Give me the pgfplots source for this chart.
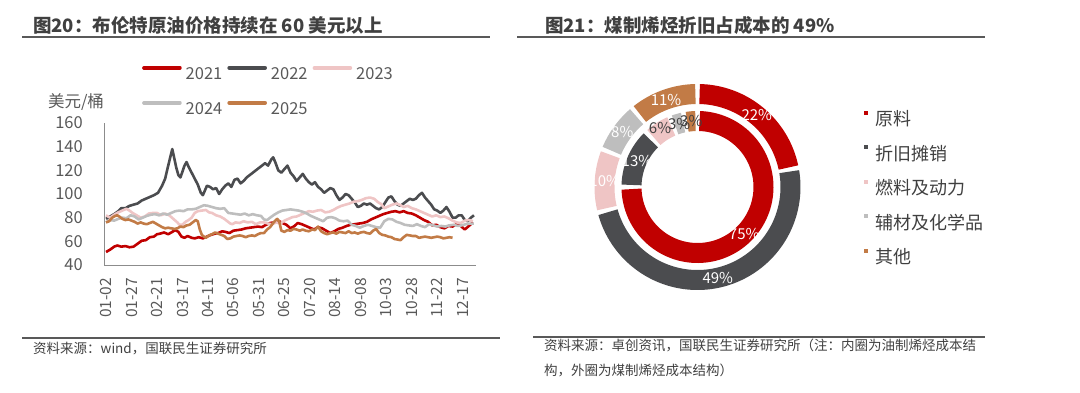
\documentclass[border=0pt]{standalone}
\usepackage{fontspec}
\setmainfont{Noto Sans CJK SC}
\usepackage{pgfplots}
\pgfplotsset{compat=1.18}
\definecolor{cRed}{HTML}{C00000}
\definecolor{cDark}{HTML}{4B4C4F}
\definecolor{cPink}{HTML}{EFC5C5}
\definecolor{cGray}{HTML}{BEBEBE}
\definecolor{cBrown}{HTML}{C27B46}
\definecolor{cText}{HTML}{595959}
\definecolor{cTitle}{HTML}{404040}
\definecolor{cRule}{HTML}{595959}
\definecolor{cAxis}{HTML}{8C8C8C}
\newcommand{\fs}[1]{\fontsize{#1}{#1}\selectfont}
% ring segment: start %, end %, mid radius, gap (deg), colour
\newcommand{\seg}[5]{\addplot[#5, line width=20pt, domain=0:1, samples=100, variable=\t]
 ({#3*cos(90-3.6*#1-#4/2-(3.6*(#2-#1)-#4)*\t)},{#3*sin(90-3.6*#1-#4/2-(3.6*(#2-#1)-#4)*\t)});}
% label: start %, end %, radius, text, colour
\newcommand{\lab}[5]{\node[text=#5, font=\fs{15pt}, inner sep=0pt] at (axis cs:{#3*cos(90-1.8*(#1+#2))},{#3*sin(90-1.8*(#1+#2))}) {#4};}
\begin{document}
\begin{tikzpicture}
\useasboundingbox (0,0) rectangle (1080pt,-392pt);
% titles and rules
\node[anchor=west, inner sep=0pt, text=cTitle, font=\fs{18.5pt}\bfseries] at (33pt,-25pt) {图20：布伦特原油价格持续在 60 美元以上};
\node[anchor=west, inner sep=0pt, text=cTitle, font=\fs{18.5pt}\bfseries] at (545pt,-25pt) {图21：煤制烯烃折旧占成本的 49\%};
\draw[cRule, line width=2pt] (22pt,-37pt) -- (490pt,-37pt);
\draw[cRule, line width=2pt] (517pt,-37pt) -- (985pt,-37pt);
\draw[cRule, line width=2pt] (22pt,-338pt) -- (500pt,-338pt);
\draw[cRule, line width=2pt] (533pt,-337pt) -- (985pt,-337pt);
\node[anchor=west, inner sep=0pt, text=cTitle, font=\fs{13.5pt}] at (33pt,-348pt) {资料来源：wind，国联民生证券研究所};
\node[anchor=west, inner sep=0pt, text=cTitle, font=\fs{13.5pt}] at (544pt,-345pt) {资料来源：卓创资讯，国联民生证券研究所（注：内圈为油制烯烃成本结};
\node[anchor=west, inner sep=0pt, text=cTitle, font=\fs{13.5pt}] at (544pt,-370pt) {构，外圈为煤制烯烃成本结构）};
\node[inner sep=0pt, text=cText, font=\fs{16.5pt}] at (76pt,-102pt) {美元/桶};

\begin{axis}[
 at={(104pt,-265pt)}, anchor=south west, scale only axis, width=372pt, height=142pt,
 xmin=-2, xmax=363, ymin=40, ymax=160,
 axis x line*=bottom, axis y line*=left,
 axis line style={cAxis, line width=1pt},
 major tick length=0pt,
 xtick={0,25,...,350},
 xticklabels={01-02,01-27,02-21,03-17,04-11,05-06,05-31,06-25,07-20,08-14,09-08,10-03,10-28,11-22,12-17},
 ytick={40,60,...,160},
 /pgf/number format/assume math mode=true,
 tick label style={text=cText},
 xticklabel style={rotate=90, anchor=east, inner sep=0pt, font=\fs{15.5pt}},
 yticklabel style={anchor=east, inner sep=0pt, font=\fs{16.5pt}},
 xticklabel shift=13pt, yticklabel shift=21pt,
 legend columns=3, legend cell align=left,
 legend style={at={(0.102,0.975)}, anchor=south west, draw=none, fill=none, inner sep=0pt,
   font=\fs{16.5pt}, text=cText, nodes={inner sep=0pt, minimum height=35pt},
   /tikz/every odd column/.append style={column sep=4pt},
   /tikz/every even column/.append style={column sep=5pt}},
 legend image code/.code={\draw[#1, line width=3.6pt, line cap=round] (1.5pt,6pt) -- (37.5pt,6pt);},
 every axis plot/.append style={line width=2.6pt, line join=round},
]
\addplot[cRed] coordinates {(0,51) (4,53) (8,55.5) (11,56.5) (15,55.5) (19,56) (23,55) (27,55.5) (31,58) (35,60.5) (39,61) (43,63.5) (47,64) (50,66) (53,66.5) (57,67.5) (61,66) (65,68) (68,69.5) (71,68) (74,64) (77,63) (80,64.5) (84,63) (87,62.5) (91,63.5) (95,62.5) (99,64) (103,65.5) (107,66.5) (110,67) (114,68.5) (117,68) (121,67) (125,69) (129,69.5) (133,70) (137,71) (141,71.5) (145,72) (149,72.5) (153,72) (157,74) (161,75.5) (165,76) (169,77.5) (173,75.5) (177,74) (181,71) (185,73) (188,75.5) (192,74.5) (196,73) (200,71.5) (204,70) (208,72) (212,71) (216,69) (220,67) (224,68.5) (228,70.5) (232,71.5) (236,73) (240,74) (244,74.5) (248,75) (252,75.5) (256,76.5) (260,78.5) (264,80) (268,81.5) (272,83) (276,84) (280,85) (284,85.5) (288,84.5) (292,85.5) (296,84) (300,83.5) (304,82) (308,80) (312,78) (316,76.5) (320,73.5) (324,74) (328,72) (332,71) (336,73) (340,72.5) (344,74.5) (348,73) (352,70) (356,73) (360,76)};
\addplot[cDark] coordinates {(0,79) (4,81) (8,83) (12,85.5) (15,88) (19,88) (23,90) (27,91) (31,92) (35,94.5) (39,96) (43,97.5) (47,99) (51,101) (55,107) (58,113) (61,124) (63,131) (65,138) (67,130) (69,122) (71,116) (73,114) (75,119) (77,124) (79,127) (81,123) (84,118) (87,113) (90,108) (93,101) (95,99) (97,103) (99,107) (102,106) (105,104) (108,105) (111,100) (114,104) (117,107) (120,109) (123,106) (126,112) (129,113) (132,109) (135,111) (138,114) (141,116) (144,118) (147,120) (150,122) (153,124) (156,126) (159,124) (162,129) (164,131) (166,127) (169,120) (172,118) (175,121) (178,124) (181,118) (184,115) (187,111) (190,114) (193,117) (196,113) (199,110) (202,108) (205,110) (208,106) (211,104) (214,101) (217,103) (220,105) (223,104) (226,99) (229,95) (232,97) (235,100) (238,99) (241,96) (244,93) (247,89) (250,90) (253,92) (256,91) (259,92) (262,90) (265,88) (268,87) (271,89) (274,93) (277,97) (280,98) (283,94) (286,91) (289,90) (292,92) (295,94) (298,96) (301,95) (304,96) (307,99) (310,101) (313,97) (316,94) (319,91) (322,87) (325,86) (328,84) (331,86) (334,89) (337,85) (340,80) (343,80) (346,82) (349,82) (352,78) (355,77) (358,80) (361,82)};
\addplot[cPink] coordinates {(0,82) (4,80) (8,82.5) (12,84.5) (16,86) (20,87.5) (23,86) (26,84) (30,82) (34,80) (38,81) (42,83.5) (46,84) (50,84) (54,82) (58,83.5) (62,82) (66,79) (70,76) (72,74) (75,74) (78,76.5) (81,78) (84,80) (87,84) (90,85.5) (94,86) (98,86.5) (101,84.5) (104,84) (108,82) (112,81) (116,79) (119,77) (122,75) (124,74.5) (127,76) (131,75.5) (135,77) (139,76) (143,76.5) (147,74.5) (151,76) (155,76) (159,75) (163,74.5) (167,76) (171,75) (175,77.5) (179,79) (183,80.5) (187,81) (191,82.5) (195,84) (199,85.5) (203,85) (207,86) (211,86.5) (215,84.5) (219,85) (223,86.5) (227,88.5) (231,90) (235,91) (239,92) (243,93.5) (247,94) (251,95) (255,96.5) (259,97) (263,96) (267,93) (270,91.5) (273,88) (277,89.5) (281,91) (285,92) (289,90.5) (292,89) (296,90) (300,88) (304,87) (308,85.5) (312,84) (316,82.5) (320,81) (324,82) (328,80.5) (332,81) (336,79.5) (340,77.5) (344,76) (348,75.5) (352,77.5) (356,78) (360,77)};
\addplot[cGray] coordinates {(0,76) (4,78) (8,77.5) (12,79) (16,80) (20,79.5) (24,82) (28,81) (32,78.5) (36,80) (40,81.5) (44,82.5) (48,83) (52,82) (56,83.5) (60,82.5) (64,84) (68,85.5) (72,86) (76,85.5) (80,87) (84,87) (88,87.5) (92,89) (96,90.5) (100,90) (104,89) (108,88) (112,87.5) (116,88) (120,84) (124,83.5) (128,83) (132,82.5) (136,83.5) (140,82) (144,83) (148,82) (152,81.5) (155,78.5) (158,78) (161,80) (165,82.5) (169,84.5) (173,86) (177,86.5) (181,87) (185,86.5) (189,86) (193,85) (197,83.5) (201,81.5) (205,80) (209,78.5) (213,77) (217,80) (221,80.5) (225,79.5) (229,77.5) (233,77) (237,77.5) (241,74) (245,73) (249,71.5) (253,73) (257,74) (261,73) (265,72) (269,71.5) (273,77) (277,79) (281,78.5) (285,76.5) (289,75.5) (293,74) (297,73.5) (301,73) (305,74.5) (309,73) (313,72) (317,74.5) (321,73.5) (325,72.5) (329,73) (333,72.5) (337,73.5) (341,74) (345,73) (349,73.5) (353,74.5) (357,75) (361,75)};
\addplot[cBrown] coordinates {(0,76) (3,77) (6,80) (9,81.5) (11,82) (13,81) (16,79) (19,78) (22,78.5) (25,77.5) (28,76.5) (31,75) (34,76) (37,75) (40,74.5) (43,75.5) (46,76.5) (49,75) (52,73.5) (55,72) (58,71) (61,71.5) (64,71) (67,70.5) (70,71) (73,72.5) (76,72) (79,73.5) (82,74) (85,76) (88,78) (90,77) (92,70) (94,65.5) (96,64) (98,63) (101,65) (104,66) (107,67.5) (110,66.5) (113,65.5) (116,64.5) (119,62) (122,62.5) (125,64) (128,64.5) (131,65) (134,64.5) (137,63.5) (140,64.5) (143,65) (146,64.5) (149,66) (152,67) (155,67) (158,70) (161,72) (164,75.5) (166,77.5) (168,79) (170,76.5) (172,69) (175,68) (178,69.5) (181,69) (184,70.5) (187,70) (190,69) (193,70) (196,69) (199,68.5) (202,70) (205,69.5) (208,72.5) (211,68.5) (214,67) (217,66) (220,67) (223,67.5) (226,66.5) (229,68) (232,67.5) (235,67) (238,68.5) (241,67) (244,67.5) (247,66.5) (250,67.5) (253,68) (256,67) (259,66.5) (262,69) (265,70.5) (268,67) (271,65.5) (274,65) (277,64) (280,63.5) (283,62) (286,61.5) (289,61) (292,63.5) (295,65.5) (298,65) (301,64.5) (304,64.5) (307,63) (310,63.5) (313,64) (316,63.5) (319,63) (322,63.5) (325,64) (328,63.5) (331,62.5) (334,63) (337,63.5) (340,63)};
\legend{2021,2022,2023,2024,2025}
\end{axis}

\begin{axis}[
 at={(697.5pt,-187pt)}, anchor=center, x=1pt, y=1pt,
 xmin=-110, xmax=110, ymin=-110, ymax=110, hide axis, clip=false,
 legend cell align=left,
 legend style={at={(1.257,0.495)}, anchor=west, draw=none, fill=none, inner sep=0pt,
   font=\fs{18pt}, text=cTitle, nodes={inner sep=0pt, minimum height=34.5pt},
   /tikz/every odd column/.append style={column sep=8pt}},
 legend image code/.code={\fill[#1, line width=0pt] (0pt,5pt) rectangle (3pt,8pt);},
]
% outer ring: coal-to-olefins
\seg{0}{22}{93}{2.6}{cRed}
\seg{22}{71}{93}{2.6}{cDark}
\seg{71}{81}{93}{2.6}{cPink}
\seg{81}{89}{93}{2.6}{cGray}
\seg{89}{100}{93}{2.6}{cBrown}
% inner ring: oil-to-olefins
\seg{0}{75}{66}{3.6}{cRed}
\seg{75}{88}{66}{3.6}{cDark}
\seg{88}{94}{66}{3.6}{cPink}
\seg{94}{97}{66}{3.6}{cGray}
\seg{97}{100}{66}{3.6}{cBrown}
\legend{原料,折旧摊销,燃料及动力,辅材及化学品,其他}
\lab{0}{22}{93}{22\%}{white}
\lab{22}{71}{93}{49\%}{white}
\lab{71}{81}{93}{10\%}{white}
\lab{81}{89}{93}{8\%}{white}
\lab{89}{100}{93}{11\%}{white}
\lab{0}{75}{66}{75\%}{white}
\lab{75}{88}{66}{13\%}{white}
\lab{88}{94}{70}{6\%}{cTitle}
\lab{94}{97}{66}{3\%}{cTitle}
\lab{97}{100}{66}{3\%}{cTitle}
\end{axis}
\end{tikzpicture}
\end{document}
